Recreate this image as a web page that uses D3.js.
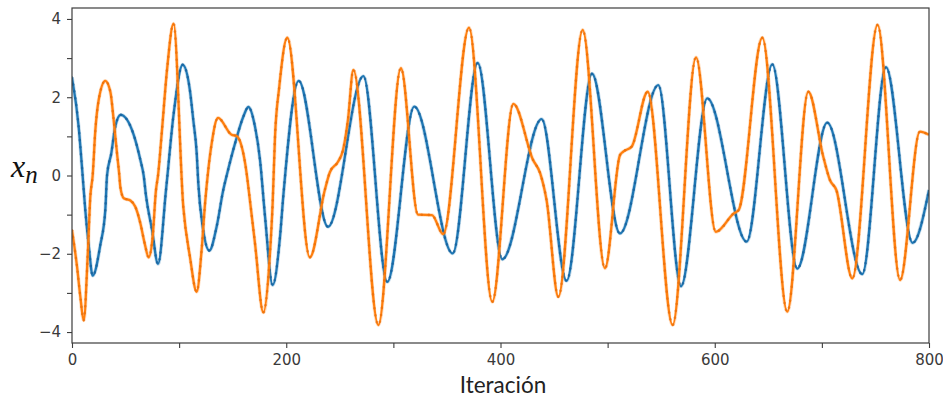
<!DOCTYPE html>
<html>
<head>
<meta charset="utf-8">
<script src="https://cdn.jsdelivr.net/npm/d3@7"></script>
<style>
  body { margin: 0; background: #fff; }
  svg { display: block; }
</style>
</head>
<body>
<svg id="canvas" width="943" height="397"></svg>
<script>
// iterations and values (peaks, troughs, shoulders)
const blueIter = [0, 6.2, 9.3, 12.4, 15.6, 19.3, 26.4, 31.1, 32.7, 36.7, 40.4, 45.4, 57.6, 63.8, 66.9, 69, 74.7, 80.3,
  88, 95, 103.3, 110, 113.2, 116.4, 117.9, 122, 128.2, 135, 141.2, 144.4, 152.2, 159.9, 164.6, 170.8, 175.5, 180.2, 187.3, 194.2, 197.2,
  211.6, 239, 272, 294.3, 319.5, 355.4, 378.7, 401.7, 438.4, 461.7, 485.4, 511.5, 547.3, 568.5, 593, 629.8, 653.7, 677, 705, 737.7, 759.8, 784.7, 800];
const blueVal = [2.5, 1.25, 0.22, -0.88, -1.78, -2.56, -1.78, -0.88, 0, 0.57, 1.25, 1.55, 1.04, 0.4, 0, -0.5, -1.39, -2.26,
  -0.3, 1.6, 2.83, 2.19, 1.42, 0.57, -0.2, -1.31, -1.92, -1.31, -0.37, 0, 0.82, 1.5, 1.75, 1.25, 0.4, -1.05, -2.8, -1.56, -0.54,
  2.42, -1.31, 2.54, -2.72, 1.76, -1.99, 2.88, -2.14, 1.44, -2.69, 2.6, -1.48, 2.31, -2.83, 1.97, -1.69, 2.84, -2.38, 1.35, -2.52, 2.77, -1.72, -0.37];

const orangeIter = [0, 4.7, 7.8, 10.9, 14.9, 17.1, 19.3, 21.8, 24.9, 31.1, 35.8, 38.9, 42, 44.2, 45.1, 48.3, 54.5, 59.1, 63.8, 67.8, 71.6,
  75.3, 78.4, 80.3, 84, 88.7, 94.8, 103.9, 110.1, 116.4, 121, 124.2, 127.2, 130.4, 136.3, 149, 153.7, 158.4, 163, 164.6, 170.8, 178.6,
  184.8, 187.3, 189.5, 193.5, 201, 222, 236, 240.8, 248.3, 253, 257.6, 262.6, 286, 307, 323, 336, 346.5, 370.6, 392.3, 412, 430.3, 437, 443, 454,
  476.7, 497.5, 511.5, 514.6, 522.5, 537.4, 560.7, 582.5, 601, 617.7, 622.4, 644.4, 667.7, 687.3, 701.3, 707.6, 713.5, 728.4, 752, 773, 791.5, 800];
const orangeVal = [-1.4, -2.33, -3.1, -3.7, -1.9, -0.54, 0, 1.16, 1.93, 2.42, 2.14, 1.42, 0.57, 0, -0.29, -0.58, -0.64, -0.8, -1.22, -1.73, -2.09,
  -1.56, -0.37, 0, 1.16, 2.7, 3.88, -0.8, -2.08, -2.97, -1.9, -0.71, 0.14, 0.82, 1.47, 1.04, 1.01, 0.74, 0.06, -0.29, -1.73, -3.5,
  -1.99, -0.71, 0.99, 2.27, 3.52, -2.09, -0.37, 0.09, 0.35, 0.65, 1.42, 2.7, -3.82, 2.74, -1.0, -1.01, -1.5, 3.78, -3.23, 1.83, 0.4, 0.06, -0.63, -3.1,
  3.72, -2.37, 0.52, 0.61, 0.74, 2.14, -3.82, 3.02, -1.44, -0.97, -0.88, 3.52, -3.48, 2.14, 0.48, -0.12, -0.37, -2.63, 3.85, -2.67, 1.12, 1.04];

const xTicks = [0, 100, 200, 300, 400, 500, 600, 700, 800];
const xTickLabels = ["0", "", "200", "", "400", "", "600", "", "800"];
const yTicks = [-4, -3, -2, -1, 0, 1, 2, 3, 4];
const yTickLabels = ["\u22124", "", "\u22122", "", "0", "", "2", "", "4"];

const svg = d3.select("svg#canvas");
const margin = { top: 8, right: 14, bottom: 54, left: 72 };
const width = +svg.attr("width");
const height = +svg.attr("height");

const x = d3.scaleLinear().domain([0, 800]).range([margin.left, width - margin.right]);
const y = d3.scaleLinear().domain([-4.28, 4.28]).range([height - margin.bottom, margin.top]);

svg.append("defs").append("clipPath").attr("id", "plot")
  .append("rect")
  .attr("x", margin.left).attr("y", margin.top)
  .attr("width", x(800) - x(0)).attr("height", y(-4.28) - y(4.28));

const series = [
  { iter: blueIter, val: blueVal, color: "#1f77b4", dot: "#17609a" },
  { iter: orangeIter, val: orangeVal, color: "#ff7f0e", dot: "#e86e0a" }
];

const line = d3.line()
  .x((d) => x(d[0]))
  .y((d) => y(d[1]))
  .curve(d3.curveMonotoneX);

const plot = svg.append("g").attr("clip-path", "url(#plot)");

series.forEach((s) => {
  const pts = s.iter.map((t, i) => [t, s.val[i]]);
  // soft halo like the blurred reference
  plot.append("path")
    .datum(pts)
    .attr("fill", "none")
    .attr("stroke", s.color)
    .attr("stroke-opacity", 0.25)
    .attr("stroke-width", 3.8)
    .attr("stroke-linejoin", "round")
    .attr("d", line);
  plot.append("path")
    .datum(pts)
    .attr("fill", "none")
    .attr("stroke", s.color)
    .attr("stroke-width", 2.3)
    .attr("stroke-linejoin", "round")
    .attr("d", line);
  // small markers along the line
  plot.append("path")
    .datum(pts)
    .attr("fill", "none")
    .attr("stroke", s.dot)
    .attr("stroke-width", 2.6)
    .attr("stroke-linecap", "round")
    .attr("stroke-dasharray", "0.01 7")
    .attr("opacity", 0.7)
    .attr("d", line);
});

// frame
svg.append("rect")
  .attr("x", x(0)).attr("y", y(4.28))
  .attr("width", x(800) - x(0)).attr("height", y(-4.28) - y(4.28))
  .attr("fill", "none")
  .attr("stroke", "#3c3c3c")
  .attr("stroke-width", 1.2);

const xAxis = svg.append("g")
  .attr("transform", `translate(0,${y(-4.28)})`)
  .call(d3.axisBottom(x).tickValues(xTicks).tickSize(5).tickPadding(6)
    .tickFormat((d, i) => xTickLabels[i]));

const yAxis = svg.append("g")
  .attr("transform", `translate(${x(0)},0)`)
  .call(d3.axisLeft(y).tickValues(yTicks).tickSize(5).tickPadding(6)
    .tickFormat((d, i) => yTickLabels[i]));

[xAxis, yAxis].forEach((g) => {
  g.select(".domain").remove();
  g.selectAll(".tick line").attr("stroke", "#3c3c3c").attr("stroke-width", 1.1);
  g.selectAll(".tick text")
    .attr("fill", "#3a3a3a")
    .style("font-family", "'DejaVu Sans', sans-serif")
    .style("font-size", "15px");
});

svg.append("text")
  .attr("x", 503).attr("y", 393)
  .attr("text-anchor", "middle")
  .attr("fill", "#222")
  .style("font-family", "Lato, 'Open Sans', sans-serif")
  .style("font-size", "22.5px")
  .text("Iteración");

const ylab = svg.append("text")
  .attr("x", 11).attr("y", 177)
  .attr("fill", "#111")
  .style("font-family", "'Liberation Serif', serif")
  .style("font-style", "italic");
ylab.append("tspan").style("font-size", "32px").text("x");
ylab.append("tspan").attr("dy", 6).style("font-size", "25px").text("n");
</script>
</body>
</html>
